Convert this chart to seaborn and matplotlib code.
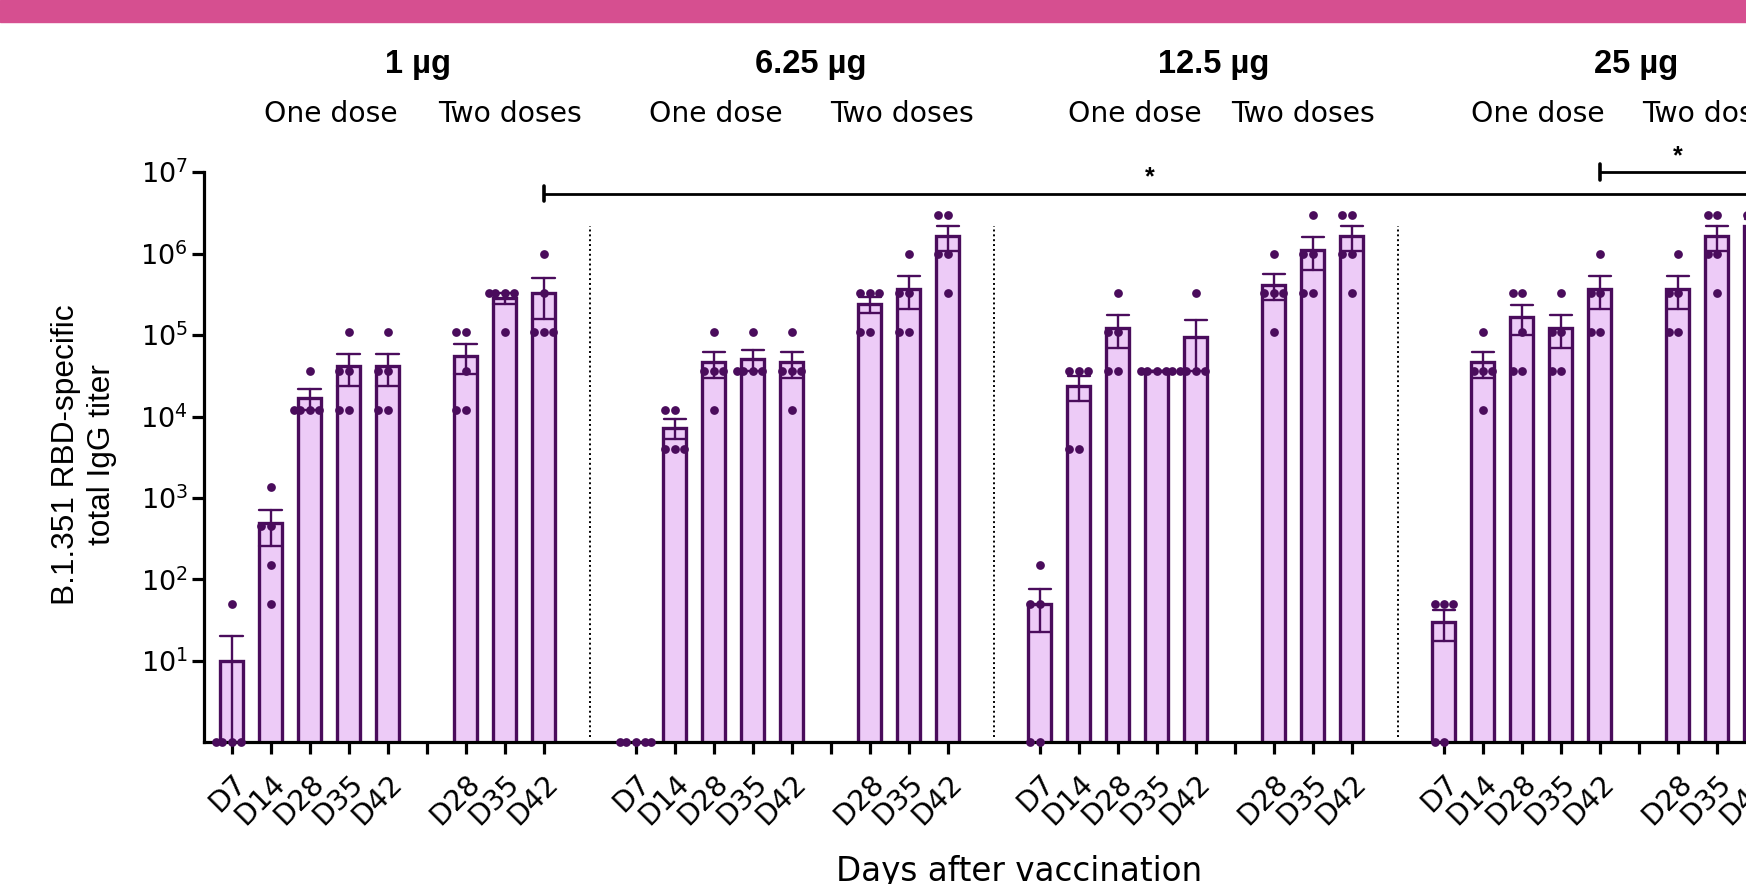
import warnings
import numpy as np
import pandas as pd
import matplotlib
matplotlib.use("Agg")
import matplotlib.pyplot as plt
from matplotlib.patches import Rectangle
from matplotlib.ticker import FixedLocator, NullLocator
import seaborn as sns

warnings.filterwarnings("ignore")

# ---------------- data ----------------
doses = ["1 µg", "6.25 µg", "12.5 µg", "25 µg"]
bar_days = ["D7", "D14", "D28", "D35", "D42", "D28", "D35", "D42"]
bar_regimen = ["One dose"] * 5 + ["Two doses"] * 3
tick_labels = ["D7", "D14", "D28", "D35", "D42", "", "D28", "D35", "D42"]

# individual animal endpoint titers (0 = below detection), 5 animals per bar
titers_1ug = [
    [0, 0, 0, 0, 50],
    [1350, 450, 450, 150, 50],
    [36450, 12150, 12150, 12150, 12150],
    [109350, 36450, 36450, 12150, 12150],
    [109350, 36450, 36450, 12150, 12150],
    [109350, 109350, 36450, 12150, 12150],
    [328050, 328050, 328050, 328050, 109350],
    [984150, 328050, 109350, 109350, 109350],
]
titers_6_25ug = [
    [0, 0, 0, 0, 0],
    [12150, 12150, 4050, 4050, 4050],
    [109350, 36450, 36450, 36450, 12150],
    [109350, 36450, 36450, 36450, 36450],
    [109350, 36450, 36450, 36450, 12150],
    [328050, 328050, 328050, 109350, 109350],
    [984150, 328050, 328050, 109350, 109350],
    [2952450, 2952450, 984150, 984150, 328050],
]
titers_12_5ug = [
    [150, 50, 50, 0, 0],
    [36450, 36450, 36450, 4050, 4050],
    [328050, 109350, 109350, 36450, 36450],
    [36450, 36450, 36450, 36450, 36450],
    [328050, 36450, 36450, 36450, 36450],
    [984150, 328050, 328050, 328050, 109350],
    [2952450, 984150, 984150, 328050, 328050],
    [2952450, 2952450, 984150, 984150, 328050],
]
titers_25ug = [
    [50, 50, 50, 0, 0],
    [109350, 36450, 36450, 36450, 12150],
    [328050, 328050, 109350, 36450, 36450],
    [328050, 109350, 109350, 36450, 36450],
    [984150, 328050, 328050, 109350, 109350],
    [984150, 328050, 328050, 109350, 109350],
    [2952450, 2952450, 984150, 984150, 328050],
    [2952450, 2952450, 2952450, 984150, 984150],
]
all_titers = [titers_1ug, titers_6_25ug, titers_12_5ug, titers_25ug]

# ---------------- layout ----------------
GROUP_STEP = 10.36           # x distance between dose groups (in slot units)
bar_slots = [0, 1, 2, 3, 4, 6, 7, 8]
n_slots = 9

rows = []
for g, dose in enumerate(doses):
    for b, (day, reg) in enumerate(zip(bar_days, bar_regimen)):
        for animal, v in enumerate(all_titers[g][b]):
            rows.append(dict(dose=dose, regimen=reg, day=day, animal=animal,
                             pos=g * GROUP_STEP + bar_slots[b], titer=float(v)))
df = pd.DataFrame(rows)
df["titer_plot"] = df["titer"].clip(lower=1.0)   # undetectable shown on the axis

sns.set_style("ticks")
plt.rcParams["font.family"] = ["DejaVu Sans"]
plt.rcParams["text.color"] = "black"
plt.rcParams["axes.labelcolor"] = "black"
plt.rcParams["xtick.color"] = "black"
plt.rcParams["ytick.color"] = "black"
plt.rcParams["axes.edgecolor"] = "black"
plt.rcParams["mathtext.fontset"] = "custom"
plt.rcParams["mathtext.rm"] = "Liberation Sans"
plt.rcParams["mathtext.it"] = "Liberation Sans:italic"
plt.rcParams["mathtext.bf"] = "Liberation Sans:bold"

W_PX, H_PX = 1746, 884
fig = plt.figure(figsize=(W_PX / 100, H_PX / 100), dpi=100)

PX_PER_UNIT = 39.0
X0_PX = 231.6
XMIN, XMAX = -0.71, 40.0
left_px = X0_PX + XMIN * PX_PER_UNIT
ax_w_px = (XMAX - XMIN) * PX_PER_UNIT
y_bot_px, y_top_px = 742.4, 172.2
ax = fig.add_axes([left_px / W_PX, (H_PX - y_bot_px) / H_PX,
                   ax_w_px / W_PX, (y_bot_px - y_top_px) / H_PX])

PURPLE = "#4A0C5C"
FILL = "#EDCBF7"

# bars: arithmetic mean +/- SEM (computed on linear scale)
sns.barplot(data=df, x="pos", y="titer", native_scale=True, orient="x",
            estimator="mean", errorbar="se", capsize=0.57, width=0.58,
            color=FILL, saturation=1, edgecolor=PURPLE, linewidth=2.4,
            err_kws={"color": PURPLE, "linewidth": 1.7}, ax=ax)
ax.set_yscale("log")
sns.swarmplot(data=df, x="pos", y="titer_plot", native_scale=True, orient="x",
              color=PURPLE, size=6.3, linewidth=0, warn_thresh=1.0,
              ax=ax, zorder=4, clip_on=False)

ax.set_ylim(1, 1e7)
ax.set_xlim(XMIN, XMAX)
ax.set_xlabel("")
ax.set_ylabel("")

# y axis
yt = [10.0 ** k for k in range(1, 8)]
ax.yaxis.set_major_locator(FixedLocator(yt))
ax.yaxis.set_minor_locator(NullLocator())
ax.set_yticklabels([r"$\mathregular{10^{%d}}$" % k for k in range(1, 8)], fontsize=19.5)

# x axis
tick_pos = [g * GROUP_STEP + s for g in range(len(doses)) for s in range(n_slots)]
ax.set_xticks(tick_pos)
ax.set_xticklabels(tick_labels * len(doses), rotation=45, ha="right",
                   rotation_mode="anchor", fontsize=20.5, family="DejaVu Sans")
ax.xaxis.set_minor_locator(NullLocator())

for s in ["top", "right"]:
    ax.spines[s].set_visible(False)
for s in ["left", "bottom"]:
    ax.spines[s].set_linewidth(2.3)
    ax.spines[s].set_color("black")
ax.tick_params(axis="both", length=8.5, width=2.3, color="black", labelcolor="black")
ax.tick_params(axis="x", pad=11)
ax.tick_params(axis="y", pad=3)

# dotted separators between dose groups
for g in range(len(doses) - 1):
    xs = g * GROUP_STEP + 9.18
    ax.plot([xs, xs], [1.15, 2.2e6], color="black", lw=1.4,
            ls=(0, (1, 1.5)), zorder=1)

# significance brackets
def bracket(x0, x1, y):
    ax.plot([x0, x1], [y, y], color="black", lw=2.0, clip_on=False, zorder=5)
    ax.plot([x0, x0], [y * 10 ** -0.095, y * 10 ** 0.095], color="black",
            lw=2.6, clip_on=False, zorder=5)
    ax.text((x0 + x1) / 2, y * 10 ** 0.05, "*", ha="center", va="bottom",
            fontsize=18, fontweight="bold", family="Liberation Sans",
            clip_on=False)

bracket(0 * GROUP_STEP + 8, 3 * GROUP_STEP + 8, 5.46e6)
bracket(3 * GROUP_STEP + 4, 3 * GROUP_STEP + 8, 1.0e7)

# header band and labels
fig.patches.append(Rectangle((0, 1 - 22 / H_PX), 1, 22 / H_PX,
                             transform=fig.transFigure, color="#D64F90", zorder=0))

def fx(px):
    return px / W_PX

def fy(py):
    return 1 - py / H_PX

dose_label_x = [417.6, 810.6, 1213.7, 1635.7]
one_x = [330.7, 716.0, 1134.6, 1538.0]
two_x = [510.0, 902.0, 1302.8, 1714.0]
for g, dose in enumerate(doses):
    fig.text(fx(dose_label_x[g]), fy(73.5), dose, ha="center", va="baseline",
             fontsize=23.5, fontweight="bold", family="Liberation Sans")
    fig.text(fx(one_x[g]), fy(121.5), "One dose", ha="center", va="baseline",
             fontsize=20.3, family="DejaVu Sans")
    fig.text(fx(two_x[g]), fy(121.5), "Two doses", ha="center", va="baseline",
             fontsize=20.3, family="DejaVu Sans")

fig.text(fx(84), fy(455), "B.1.351 RBD-specific\ntotal IgG titer", rotation=90,
         ha="center", va="center", multialignment="center", linespacing=1.3,
         fontsize=22.8, family="Liberation Sans")
fig.text(fx(1019.5), fy(881), "Days after vaccination", ha="center",
         va="baseline", fontsize=23.5, family="DejaVu Sans")

fig.savefig("out.png", dpi=100)
